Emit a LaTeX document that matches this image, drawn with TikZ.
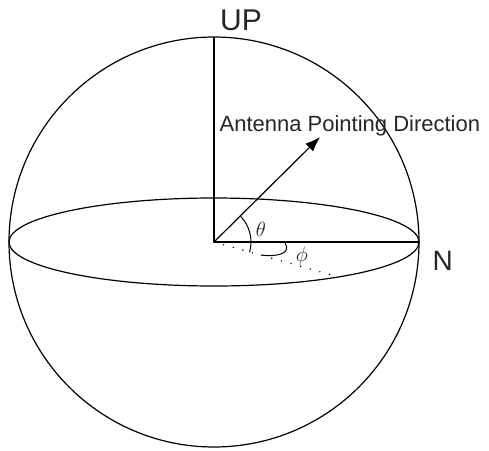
\documentclass[tikz,border=0pt]{standalone}
\usepackage{fontspec}
\setmainfont{Liberation Sans}
\usetikzlibrary{arrows.meta}
\begin{document}
\begin{tikzpicture}[x=1pt,y=-1pt,
  every path/.style={line width=1.2pt},
  lbl/.style={inner sep=0pt, text=black!85},
  dots/.style={line width=1.6pt, line cap=round, dash pattern=on 0pt off 10pt}]
\useasboundingbox (0,0) rectangle (489,450);
\coordinate (O) at (214,242);
\coordinate (top) at (214,37);
\coordinate (east) at (419,242);
\coordinate (tip) at (320,137);
\coordinate (proj) at (335,276);
% sphere and equator
\draw (O) circle[radius=205];
\draw (O) ellipse[x radius=205, y radius=44];
% axes
\draw (O) -- (top);
\draw (O) -- (east);
\draw[-{Latex[length=15pt,width=11pt]}] (O) -- (tip);
\draw[dots] (O) -- (proj);
% angle arcs
\draw[line width=1pt] ([shift={(-44:37)}]O) arc[start angle=-44, end angle=16, radius=37];
\draw[line width=1pt] (261,255) .. controls (276,257) and (292,254) .. (285,243);
% labels
\node[lbl, anchor=base] (up) at (241,30) {\fontsize{30}{30}\selectfont UP};
\node[lbl, anchor=base west] (n) at (432,270) {\fontsize{28}{28}\selectfont N};
\node[lbl, anchor=base west] (ant) at (219,131) {\fontsize{22}{22}\selectfont Antenna Pointing Direction};
\node[lbl] (th) at (261,229) {\fontsize{21}{21}\selectfont$\theta$};
\node[lbl] (ph) at (302,256) {\fontsize{21}{21}\selectfont$\phi$};
\end{tikzpicture}
\end{document}
